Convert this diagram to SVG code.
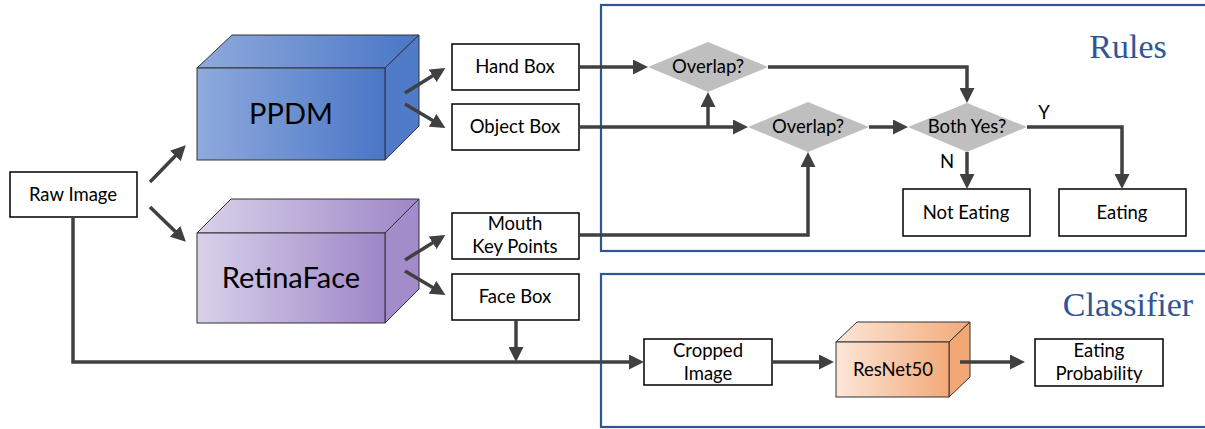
<svg xmlns="http://www.w3.org/2000/svg" width="1205" height="429" viewBox="0 0 1205 429">
<defs>
<style>
.box{fill:#fff;stroke:#000;stroke-width:1.5}
.dia{fill:#BFBFBF}
.t{font-family:Lato,"Liberation Sans",sans-serif;font-size:18.5px;fill:#000;text-anchor:middle}
.big{font-family:Lato,"Liberation Sans",sans-serif;font-size:29px;fill:#000;text-anchor:middle}
.sec{font-family:"Liberation Serif",serif;font-size:34px;fill:#2F5597;text-anchor:middle}
.frame{fill:none;stroke:#2F5597;stroke-width:2.2}
.c{fill:none;stroke:#404040;stroke-width:3.5}
.ca{fill:none;stroke:#404040;stroke-width:3.5;marker-end:url(#ah)}
.edge{stroke:#333;stroke-width:1}
</style>
<marker id="ah" markerUnits="userSpaceOnUse" markerWidth="15" markerHeight="15" refX="11" refY="7.5" orient="auto">
<path d="M0,0 L15,7.5 L0,15 z" fill="#404040"/>
</marker>
<linearGradient id="gBlue" x1="0" y1="0" x2="1" y2="0">
<stop offset="0" stop-color="#8FAADC"/><stop offset="1" stop-color="#4A76C6"/>
</linearGradient>
<linearGradient id="gPurple" x1="0" y1="0" x2="1" y2="0">
<stop offset="0" stop-color="#D9D1EA"/><stop offset="1" stop-color="#9D86C7"/>
</linearGradient>
<linearGradient id="gOrange" x1="0" y1="0" x2="1" y2="0">
<stop offset="0" stop-color="#FCE6D8"/><stop offset="1" stop-color="#F2AA79"/>
</linearGradient>
</defs>
<rect width="1205" height="429" fill="#fff"/>

<g id="rules-frame">
<rect class="frame" x="601" y="5" width="610" height="246"/>
<text class="sec" x="1128" y="58">Rules</text>
</g>
<g id="classifier-frame">
<rect class="frame" x="601" y="274" width="610" height="153"/>
<text class="sec" x="1128" y="316">Classifier</text>
</g>

<g id="raw-image">
<rect class="box" x="10" y="172" width="127" height="45"/>
<text class="t" x="73" y="201">Raw Image</text>
</g>

<g id="ppdm">
<polygon points="197,68 232,35 419,35 385,68" fill="url(#gBlue)" class="edge"/>
<polygon points="385,68 419,35 419,126 385,160" fill="#4F7BC9" class="edge"/>
<rect x="197" y="68" width="188" height="92" fill="url(#gBlue)" class="edge"/>
<text class="big" x="291" y="124">PPDM</text>
</g>

<g id="retinaface">
<polygon points="197,233 231,199 419,199 385,233" fill="url(#gPurple)" class="edge"/>
<polygon points="385,233 419,199 419,289 385,323" fill="#A28CC9" class="edge"/>
<rect x="197" y="233" width="188" height="90" fill="url(#gPurple)" class="edge"/>
<text class="big" x="291" y="288">RetinaFace</text>
</g>

<g id="hand-box">
<rect class="box" x="452" y="44" width="127" height="46"/>
<text class="t" x="515" y="73">Hand Box</text>
</g>
<g id="object-box">
<rect class="box" x="452" y="104" width="127" height="46"/>
<text class="t" x="515" y="133">Object Box</text>
</g>
<g id="mouth-key-points">
<rect class="box" x="452" y="213" width="127" height="46"/>
<text class="t" x="515" y="230">Mouth</text>
<text class="t" x="515" y="253">Key Points</text>
</g>
<g id="face-box">
<rect class="box" x="452" y="274" width="127" height="46"/>
<text class="t" x="515" y="303">Face Box</text>
</g>

<g id="overlap1">
<polygon class="dia" points="648,67 708,42 768,67 708,92"/>
<text class="t" x="708" y="73">Overlap?</text>
</g>
<g id="overlap2">
<polygon class="dia" points="748,127 808,102 869,127 808,152"/>
<text class="t" x="808" y="133">Overlap?</text>
</g>
<g id="both-yes">
<polygon class="dia" points="908,127 967,103 1027,127 967,152"/>
<text class="t" x="967" y="133">Both Yes?</text>
</g>
<g id="not-eating">
<rect class="box" x="903" y="189" width="127" height="47"/>
<text class="t" x="966" y="219">Not Eating</text>
</g>
<g id="eating">
<rect class="box" x="1059" y="189" width="127" height="47"/>
<text class="t" x="1122" y="219">Eating</text>
</g>

<g id="cropped-image">
<rect class="box" x="644" y="339" width="128" height="46"/>
<text class="t" x="708" y="357">Cropped</text>
<text class="t" x="708" y="380">Image</text>
</g>
<g id="resnet50">
<polygon points="836,342 857,322 970,322 949,342" fill="url(#gOrange)" class="edge"/>
<polygon points="949,342 970,322 970,377 949,397" fill="#F1A874" class="edge"/>
<rect x="836" y="342" width="113" height="55" fill="url(#gOrange)" class="edge"/>
<text class="t" x="893" y="376">ResNet50</text>
</g>
<g id="eating-probability">
<rect class="box" x="1035" y="339" width="128" height="47"/>
<text class="t" x="1099" y="357">Eating</text>
<text class="t" x="1099" y="380">Probability</text>
</g>

<g id="connectors">
<line class="ca" x1="150" y1="182" x2="183" y2="148"/>
<line class="ca" x1="150" y1="207" x2="183" y2="239"/>
<line class="ca" x1="405" y1="93" x2="442" y2="70"/>
<line class="ca" x1="405" y1="104" x2="442" y2="126"/>
<line class="ca" x1="405" y1="260" x2="442" y2="237"/>
<line class="ca" x1="405" y1="271" x2="442" y2="293"/>
<line class="ca" x1="579" y1="67" x2="644" y2="67"/>
<line class="ca" x1="579" y1="127" x2="744" y2="127"/>
<line class="ca" x1="708" y1="127" x2="708" y2="96"/>
<path class="ca" d="M579,235 H808 V156"/>
<path class="ca" d="M768,67 H967 V99"/>
<line class="ca" x1="869" y1="127" x2="904" y2="127"/>
<line class="ca" x1="967" y1="152" x2="967" y2="185"/>
<path class="ca" d="M1027,127 H1122 V185"/>
<text class="t" x="947" y="168">N</text>
<text class="t" x="1044" y="119">Y</text>
<path class="ca" d="M73,217 V362 H640"/>
<line class="ca" x1="516" y1="320" x2="516" y2="358"/>
<line class="ca" x1="772" y1="362" x2="830" y2="362"/>
<line class="ca" x1="960" y1="362" x2="1021" y2="362"/>
</g>
</svg>
